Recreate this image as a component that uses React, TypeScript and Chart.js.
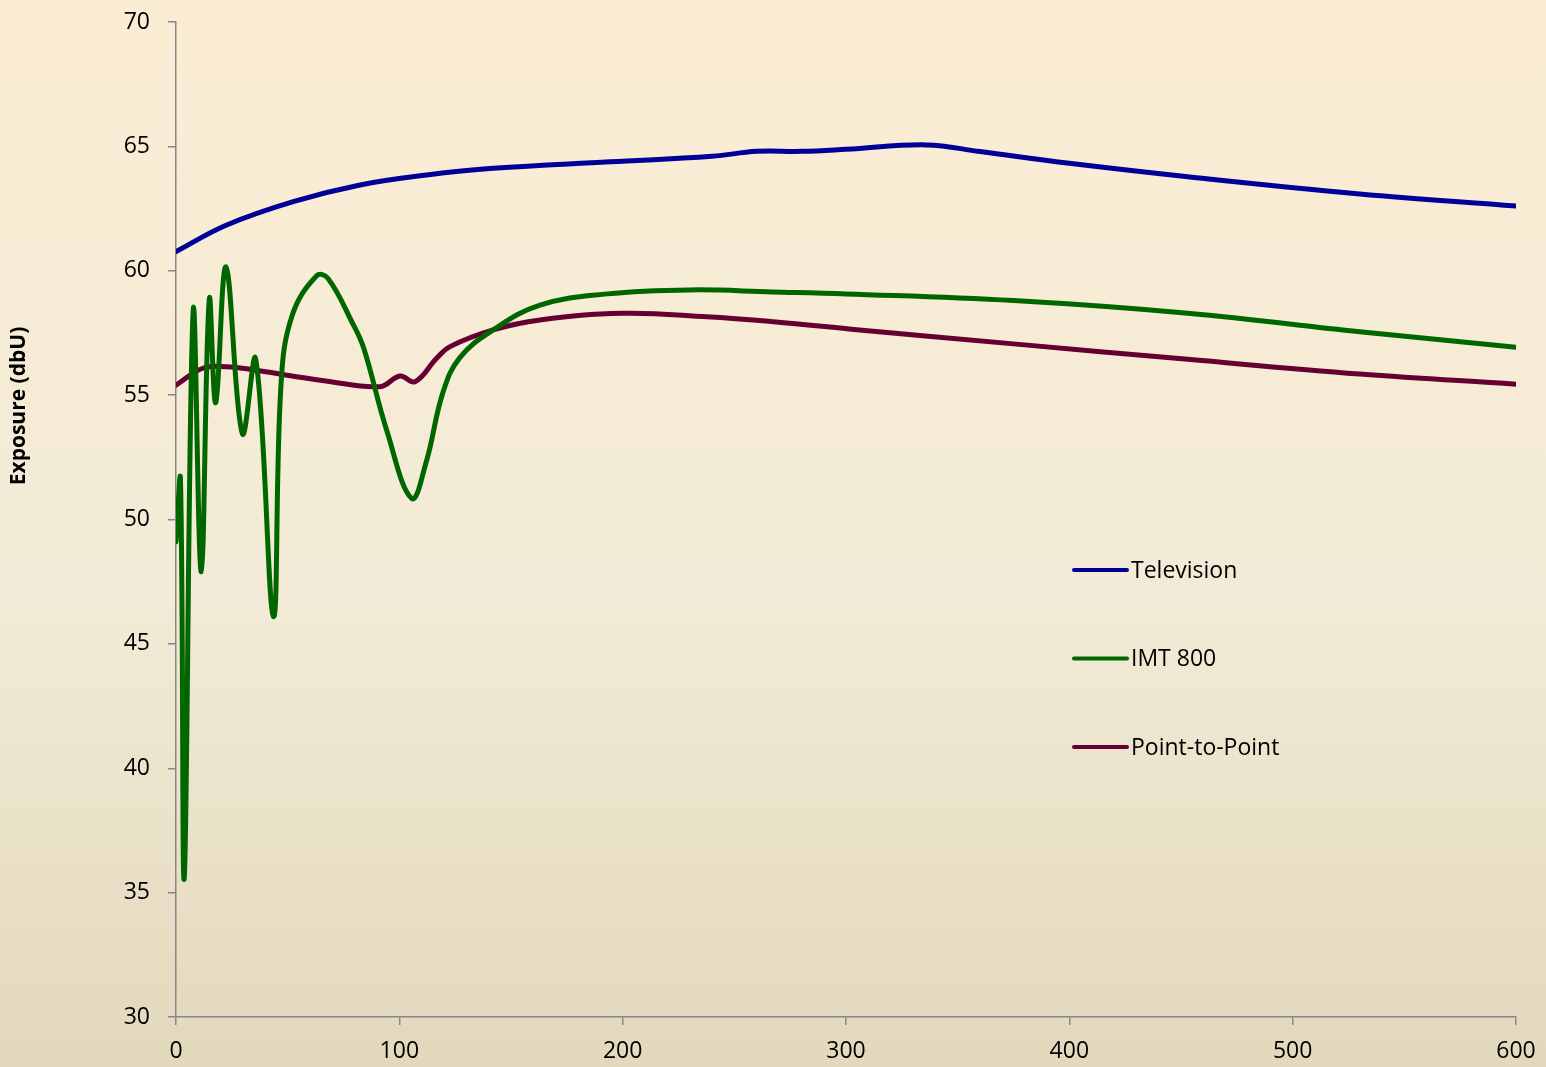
import React, { useEffect, useRef } from "react";
import { Chart, registerables } from "chart.js";

Chart.register(...registerables);

// Distance (km) and exposure (dBµV/m) for each service
const tvDistance = [0, 22.7, 52.5, 82.4, 112.2, 142, 194.3, 240, 260, 280, 300, 336, 360, 400, 453, 530, 600];
const tvExposure = [60.77, 61.84, 62.78, 63.45, 63.85, 64.12, 64.38, 64.6, 64.8, 64.8, 64.88, 65.06, 64.79, 64.32, 63.78, 63.09, 62.6];

const imtDistance = [0, 2.0, 3.7, 7.7, 11.3, 14.9, 17.8, 22.4, 29.7, 35.7, 43.6, 47, 52, 63, 68, 79, 84, 94.3, 105.5, 112, 119.5, 127, 142, 163, 193, 230, 267, 300, 375, 453, 530, 600];
const imtExposure = [49.1, 51.6, 35.6, 58.4, 47.9, 58.85, 54.7, 60.15, 53.45, 56.45, 46.1, 55.4, 58.2, 59.8, 59.7, 57.9, 56.9, 53.6, 50.85, 52.3, 55.1, 56.5, 57.62, 58.62, 59.07, 59.23, 59.15, 59.07, 58.8, 58.29, 57.55, 56.92];

const p2pDistance = [0, 12, 22.7, 36, 52, 67, 91.3, 100.3, 107, 116.7, 122.7, 142, 163, 200, 237.6, 267.5, 306, 375, 453, 530, 600];
const p2pExposure = [55.4, 56.08, 56.14, 56.0, 55.77, 55.57, 55.34, 55.77, 55.54, 56.48, 56.95, 57.62, 58.02, 58.29, 58.15, 57.95, 57.62, 57.06, 56.44, 55.85, 55.44];

const seriesNames = ["Television", "IMT 800", "Point-to-Point"];
const seriesColors = ["#000099", "#006600", "#660033"];

const yTitle = "Exposure (dbU)";
const xTicksMin = 0;
const xTicksMax = 600;
const xTickStep = 100;
const yTicksMin = 30;
const yTicksMax = 70;
const yTickStep = 5;

const FONT = "'Open Sans', 'Noto Sans', sans-serif";

const toPoints = (xs: number[], ys: number[]) => xs.map((x, i) => ({ x, y: ys[i] }));

// Page background: warm vertical gradient behind everything
const backgroundPlugin = {
  id: "bgGradient",
  beforeDraw(chart: any) {
    const { ctx, width, height } = chart;
    const g = ctx.createLinearGradient(0, 0, 0, height);
    g.addColorStop(0, "#FBEDD4");
    g.addColorStop(0.55, "#F3EBD7");
    g.addColorStop(1, "#E2D8BC");
    ctx.save();
    ctx.fillStyle = g;
    ctx.fillRect(0, 0, width, height);
    ctx.restore();
  },
};

// Rotated y-axis title and the stacked legend inside the plot
const annotationsPlugin = {
  id: "annotations",
  afterDraw(chart: any) {
    const { ctx, chartArea } = chart;
    ctx.save();
    ctx.translate(19, 406);
    ctx.rotate(-Math.PI / 2);
    ctx.font = `bold 21px ${FONT}`;
    ctx.fillStyle = "#000";
    ctx.textAlign = "center";
    ctx.textBaseline = "middle";
    ctx.fillText(yTitle, 0, 0);
    ctx.restore();

    const lx = chartArea.left + 898;
    const ly = chartArea.top + 548;
    chart.data.datasets.forEach((ds: any, i: number) => {
      const y = ly + i * 88.5;
      ctx.save();
      ctx.strokeStyle = ds.borderColor;
      ctx.lineWidth = 4;
      ctx.lineCap = "round";
      ctx.beginPath();
      ctx.moveTo(lx, y);
      ctx.lineTo(lx + 53, y);
      ctx.stroke();
      ctx.fillStyle = "#000";
      ctx.font = `23px ${FONT}`;
      ctx.textAlign = "left";
      ctx.textBaseline = "middle";
      ctx.fillText(ds.label, lx + 57, y + 1);
      ctx.restore();
    });
  },
};

export default function App() {
  const canvasRef = useRef<HTMLCanvasElement | null>(null);

  useEffect(() => {
    document.body.style.margin = "0";
    const canvas = canvasRef.current;
    if (!canvas) return;

    const series = [
      toPoints(tvDistance, tvExposure),
      toPoints(imtDistance, imtExposure),
      toPoints(p2pDistance, p2pExposure),
    ];

    const chart = new Chart(canvas, {
      type: "line",
      data: {
        datasets: series.map((data, i) => ({
          label: seriesNames[i],
          data,
          borderColor: seriesColors[i],
          backgroundColor: seriesColors[i],
          borderWidth: 5,
          pointRadius: 0,
          tension: 0.4,
          fill: false,
          borderCapStyle: "round",
          borderJoinStyle: "round",
        })),
      },
      options: {
        responsive: false,
        animation: false,
        layout: { padding: { top: 22, right: 30, left: 0, bottom: 0 } },
        plugins: {
          legend: { display: false },
          tooltip: { enabled: false },
        },
        scales: {
          x: {
            type: "linear",
            min: xTicksMin,
            max: xTicksMax,
            ticks: {
              stepSize: xTickStep,
              color: "#000",
              font: { family: FONT, size: 23 },
              padding: 13,
              maxRotation: 0,
            },
            grid: { drawOnChartArea: false, color: "#878787", tickLength: 8, lineWidth: 1.5 },
            border: { color: "#878787", width: 1.5 },
            afterFit: (scale: any) => {
              scale.height = 50;
              scale.paddingLeft = 0;
              scale.paddingRight = 0;
            },
          },
          y: {
            type: "linear",
            min: yTicksMin,
            max: yTicksMax,
            ticks: {
              stepSize: yTickStep,
              color: "#000",
              font: { family: FONT, size: 23 },
              padding: 18,
            },
            grid: { drawOnChartArea: false, color: "#878787", tickLength: 8, lineWidth: 1.5 },
            border: { color: "#878787", width: 1.5 },
            afterFit: (scale: any) => {
              scale.width = 176;
              scale.paddingTop = 0;
              scale.paddingBottom = 0;
            },
          },
        },
      },
      plugins: [backgroundPlugin, annotationsPlugin],
    } as any);

    return () => chart.destroy();
  }, []);

  return (
    <div style={{ width: 1546, height: 1067 }}>
      <canvas ref={canvasRef} width={1546} height={1067} />
    </div>
  );
}
